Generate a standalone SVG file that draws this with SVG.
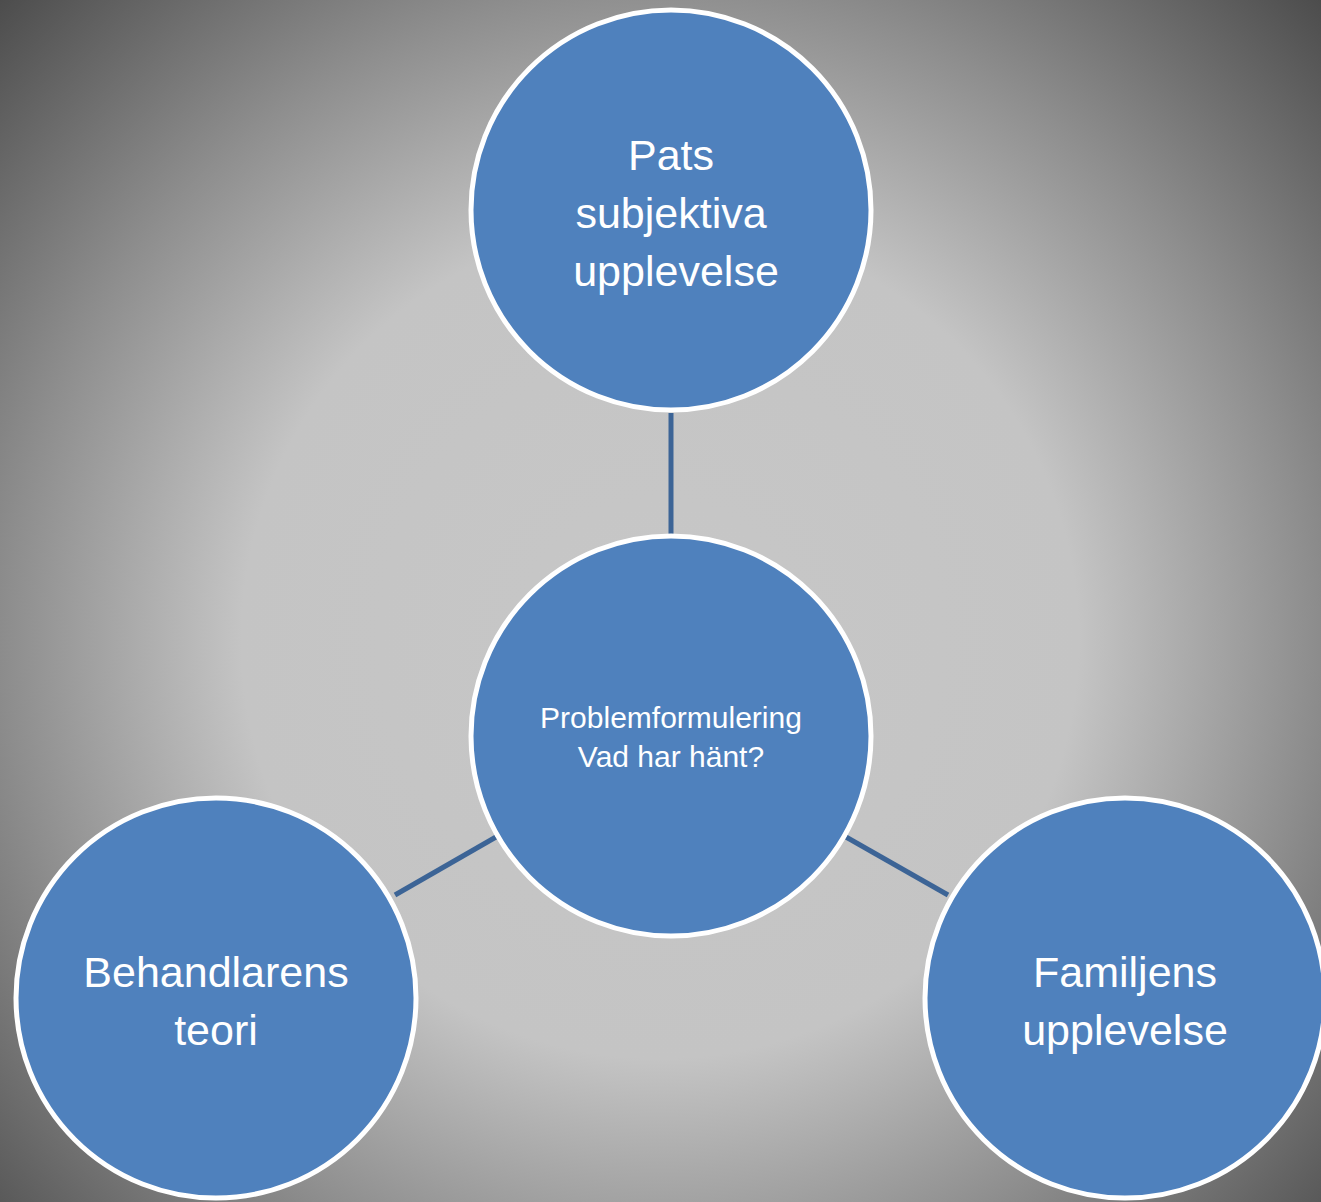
<svg xmlns="http://www.w3.org/2000/svg" width="1321" height="1202" viewBox="0 0 1321 1202">
  <defs>
    <radialGradient id="bg" gradientUnits="userSpaceOnUse" cx="660" cy="640" r="930">
      <stop offset="0" stop-color="#c7c7c7"/>
      <stop offset="0.45" stop-color="#c4c4c4"/>
      <stop offset="0.70" stop-color="#8e8e8e"/>
      <stop offset="1" stop-color="#4a4a4a"/>
    </radialGradient>
    <style>
      .node { fill: #4f81bd; stroke: #ffffff; stroke-width: 5; }
      .big { font-family: "Liberation Sans", Arial, sans-serif; font-size: 43px; fill: #ffffff; text-anchor: middle; }
      .small { font-family: "Liberation Sans", Arial, sans-serif; font-size: 30px; fill: #ffffff; text-anchor: middle; }
      .conn { stroke: #3c6496; stroke-width: 5; fill: none; }
    </style>
  </defs>
  <rect x="0" y="0" width="1321" height="1202" fill="url(#bg)"/>
  <g id="connectors">
    <line class="conn" x1="671" y1="413" x2="671" y2="534"/>
    <line class="conn" x1="395" y1="895" x2="496" y2="837"/>
    <line class="conn" x1="846" y1="837" x2="948" y2="895"/>
  </g>
  <g id="node-top">
    <circle class="node" cx="671" cy="210" r="200"/>
    <text class="big" x="671" y="170">Pats</text>
    <text class="big" x="671" y="228">subjektiva</text>
    <text class="big" x="676" y="286">upplevelse</text>
  </g>
  <g id="node-center">
    <circle class="node" cx="671" cy="736" r="200"/>
    <text class="small" x="671" y="728">Problemformulering</text>
    <text class="small" x="671" y="767">Vad har hänt?</text>
  </g>
  <g id="node-left">
    <circle class="node" cx="216" cy="998" r="200"/>
    <text class="big" x="216" y="987">Behandlarens</text>
    <text class="big" x="216" y="1045">teori</text>
  </g>
  <g id="node-right">
    <circle class="node" cx="1125" cy="998" r="200"/>
    <text class="big" x="1125" y="987">Familjens</text>
    <text class="big" x="1125" y="1045">upplevelse</text>
  </g>
</svg>
